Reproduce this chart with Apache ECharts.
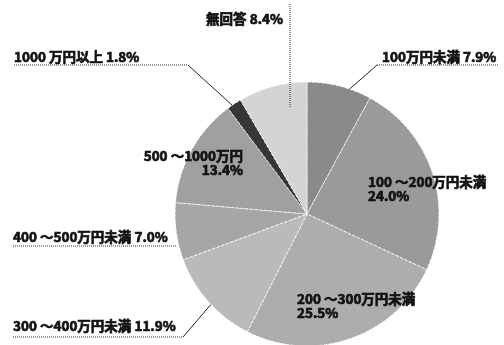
<!DOCTYPE html>
<html><head><meta charset="utf-8">
<script src="https://cdn.jsdelivr.net/npm/echarts@6/dist/echarts.min.js"></script>
<style>html,body{margin:0;padding:0;background:#fff}#c{width:504px;height:345px}</style>
</head><body><div id="c"></div>
<script>
const categories = ['100万円未満','100 ～200万円未満','200 ～300万円未満','300 ～400万円未満','400 ～500万円未満','500 ～1000万円','1000 万円以上','無回答'];
const values = [7.9, 24.0, 25.5, 11.9, 7.0, 13.4, 1.8, 8.4];
const colors = ['#8a8a8a','#9a9a9a','#adadad','#bababa','#a6a6a6','#a0a0a0','#363636','#d4d4d4'];
const twoLine = [false, true, true, false, false, true, false, false];

const CX = 307, CY = 214, R = 132;
const FONT = '"Noto Sans CJK JP","Noto Sans",sans-serif';

// label placement (layout only)
const place = [
  {x:382, y:57,  align:'left',  va:'middle', elbow:[377,65], k:0.88},
  {x:368, y:175, align:'left',  va:'top'},
  {x:297, y:292, align:'left',  va:'top'},
  {x:13,  y:326, align:'left',  va:'middle', elbow:[183,337], k:0.8},
  {x:13,  y:237, align:'left',  va:'middle'},
  {x:243, y:149, align:'right', va:'top'},
  {x:14,  y:57,  align:'left',  va:'middle', elbow:[188,65], k:0.93},
  {x:283, y:19,  align:'right', va:'middle'}
];
const underline = {
  0: [[377,65],[437,65],[498,65]],
  3: [[13,337],[100,337],[183,337]],
  4: [[13,246],[100,246],[176,246]],
  6: [[14,65],[100,65],[188,65]],
  7: [[290,4],[290,50],[290,108]]
};

function midDir(i){
  let sum = 0, before = 0;
  values.forEach((v, j) => { sum += v; if (j < i) before += v; });
  const a = (before + values[i] / 2) / sum * 2 * Math.PI;
  return [Math.sin(a), -Math.cos(a)];
}

const mainData = categories.map((n, i) => ({
  name: n, value: values[i],
  itemStyle: {color: colors[i]},
  labelLine: {show: !!place[i].elbow}
}));
const overlayData = categories.map((n, i) => ({
  name: n, value: values[i],
  label: {show: !!underline[i]},
  labelLine: {show: !!underline[i]}
}));

const chart = echarts.init(document.getElementById('c'), null, {renderer: 'canvas'});
chart.setOption({
  animation: false,
  backgroundColor: '#fff',
  series: [
    {
      type: 'pie',
      center: [CX, CY], radius: R,
      startAngle: 90, clockwise: true,
      avoidLabelOverlap: false,
      data: mainData,
      itemStyle: {borderColor: '#ffffff', borderWidth: 0.8, borderType: 'dashed'},
      label: {
        show: true, position: 'outside',
        color: '#111', fontSize: 13.5, fontWeight: 'bold', fontFamily: FONT, lineHeight: 14,
        textBorderColor: '#111', textBorderWidth: 0.7,
        formatter: p => categories[p.dataIndex] + (twoLine[p.dataIndex] ? '\n' : ' ') + values[p.dataIndex].toFixed(1) + '%'
      },
      labelLine: {show: false, lineStyle: {color: '#222', width: 1, type: 'solid'}},
      labelLayout: function (p) {
        const s = place[p.dataIndex];
        const out = {x: s.x, y: s.y, align: s.align, verticalAlign: s.va};
        if (s.elbow) {
          let d;
          if (p.labelLinePoints && p.labelLinePoints[0]) {
            const p0 = p.labelLinePoints[0];
            const len = Math.hypot(p0[0] - CX, p0[1] - CY) || 1;
            d = [(p0[0] - CX) / len, (p0[1] - CY) / len];
          } else {
            d = midDir(p.dataIndex);
          }
          const a = [CX + d[0] * R * s.k, CY + d[1] * R * s.k];
          out.labelLinePoints = [a, s.elbow, s.elbow];
        }
        return out;
      }
    },
    {
      type: 'pie',
      center: [CX, CY], radius: R,
      startAngle: 90, clockwise: true,
      avoidLabelOverlap: false,
      silent: true,
      z: 3,
      data: overlayData,
      itemStyle: {color: 'rgba(0,0,0,0)', borderWidth: 0},
      label: {show: true, position: 'outside', formatter: ' ', fontSize: 10},
      labelLine: {show: true, lineStyle: {color: '#333', width: 1, type: 'dotted'}},
      labelLayout: function (p) {
        const pts = underline[p.dataIndex];
        if (!pts) return {};
        return {x: pts[0][0], y: pts[0][1], align: 'left', verticalAlign: 'middle', labelLinePoints: pts};
      }
    }
  ]
});
</script>
</body></html>
